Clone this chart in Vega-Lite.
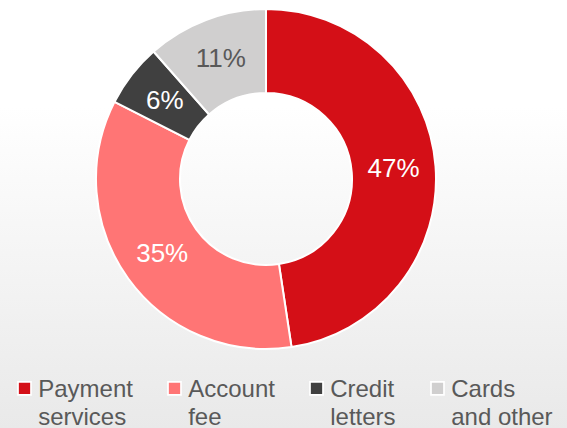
{
  "$schema": "https://vega.github.io/schema/vega-lite/v6.json",
  "width": 567,
  "height": 428,
  "padding": 0,
  "autosize": {"type": "none"},
  "background": "#ffffff",
  "view": {"stroke": null, "fill": {"gradient": "linear", "x1": 0, "y1": 0, "x2": 0, "y2": 1, "stops": [{"offset": 0, "color": "#ffffff"}, {"offset": 0.25, "color": "#ffffff"}, {"offset": 1, "color": "#e9e9e9"}]}},
  "config": {
    "font": "Liberation Sans",
    "style": {"guide-label": {"lineHeight": 28, "dy": -10.6}}
  },
  "data": {"values": [
    {"category": "Payment services", "value": 47.6, "label": "47%", "idx": 1},
    {"category": "Account fee", "value": 34.9, "label": "35%", "idx": 2},
    {"category": "Credit letters", "value": 6.0, "label": "6%", "idx": 3},
    {"category": "Cards and other", "value": 11.5, "label": "11%", "idx": 4}
  ]},
  "encoding": {
    "theta": {"field": "value", "type": "quantitative", "stack": true},
    "order": {"field": "idx", "type": "quantitative"}
  },
  "layer": [
    {
      "mark": {"type": "arc", "innerRadius": 86, "outerRadius": 170, "stroke": "#ffffff", "strokeWidth": 2, "xOffset": -17.5, "yOffset": -35},
      "encoding": {
        "color": {
          "field": "category", "type": "nominal",
          "scale": {"domain": ["Payment services", "Account fee", "Credit letters", "Cards and other"], "range": ["#d40f17", "#ff7575", "#404040", "#d0cfcf"]},
          "legend": {
            "title": null, "orient": "none", "legendX": 12.5, "legendY": 376, "direction": "horizontal", "columns": 4, "padding": 0,
            "symbolType": "square", "symbolSize": 169, "symbolStrokeColor": "#ffffff", "symbolStrokeWidth": 1.7,
            "labelFont": "Liberation Sans", "labelFontSize": 24, "labelColor": "#595959", "labelLimit": 300,
            "labelOffset": 1.7, "columnPadding": 29, "labelBaseline": "top",
            "labelExpr": "datum.label == 'Cards and other' ? ['Cards', 'and other'] : split(datum.label, ' ')"
          }
        }
      }
    },
    {
      "mark": {"type": "text", "radius": 128, "fontSize": 26, "font": "Liberation Sans", "xOffset": -17.5, "yOffset": -35},
      "encoding": {
        "text": {"field": "label"},
        "color": {"condition": {"test": "datum.idx == 4", "value": "#595959"}, "value": "#ffffff"}
      }
    }
  ]
}
